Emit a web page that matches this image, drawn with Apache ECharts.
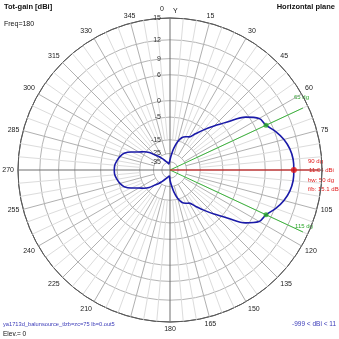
<!DOCTYPE html>
<html>
<head>
<meta charset="utf-8">
<script src="https://cdn.jsdelivr.net/npm/echarts@6/dist/echarts.min.js"></script>
<style>
  html, body { margin: 0; padding: 0; background: #ffffff; }
  #chart { width: 339px; height: 339px; }
</style>
</head>
<body>
<div id="chart"></div>
<script>
// Azimuth (degrees, clockwise from Y) and total gain in dBi
const azimuth = [
  0, 5, 10, 15, 20, 25, 30, 35, 40, 45, 50, 55, 60, 65, 70, 75, 80, 85,
  90, 95, 100, 105, 110, 115, 120, 125, 130, 135, 140, 145, 150, 155, 160, 165,
  170, 175, 180, 185, 190, 195, 200, 205, 210, 215, 220, 225, 230, 235, 240, 245,
  250, 255, 260, 265, 270, 275, 280, 285, 290, 295, 300, 305, 310, 315, 320, 325,
  330, 335, 340, 345, 350, 355
];
const gainDbi = [
  -32, -26.4, -20.3, -15.6, -12.8, -11.6, -10.9, -8.3, -5.2, -2.0, 1.4, 5.4, 7.5, 8.04, 9.2, 10.1, 10.7, 11.0,
  11.04, 11.0, 10.7, 10.1, 9.2, 8.04, 7.5, 5.4, 1.4, -2.0, -5.2, -8.3, -10.9, -11.6, -12.8, -15.6,
  -20.3, -26.4, -32, -38.5, -38.5, -36.8, -35.2, -33, -30.3, -27.4, -24, -21, -16.9, -14.2, -11.9, -8.9,
  -6.5, -5.4, -4.7, -4.15, -4.06, -4.15, -4.7, -5.4, -6.5, -8.9, -11.9, -14.2, -16.9, -21, -24, -27.4,
  -30.3, -33, -35.2, -36.8, -38.5, -38.5
];

// Gain rings (dBi) and their labels
const ringDbi = [15, 12, 9, 6, 0, -5, -15, -25, -35];
const ringLabels = ['15', '12', '9', '6', '0', '-5', '-15', '-25', '-35'];

// Azimuth labels every 15 degrees; some are covered by annotations
const hiddenAngleLabels = [0, 90, 195];

// Main lobe summary
const peakAngle = 90;
const peakDbi = 11.04;
const halfPowerAngles = [65, 115];
const halfPowerDbi = 8.04;
const beamwidth = 50;
const frontToBack = 15.1;

// Log-type radial scale: outer ring = 15 dBi
const outerDbi = 15;
function toRadius(db) {
  const k = 0.05, c = 0.03;
  return Math.max(0, (Math.exp(k * (db - outerDbi)) - c) / (1 - c));
}

// Spokes: 5 deg minor, 15 deg major, 0/90/180/270 axes
const spokes = [];
for (let a = 0; a < 360; a += 5) {
  let kind = 0, from = toRadius(-15);
  if (a % 90 === 0) { kind = 2; from = 0; }
  else if (a % 15 === 0) { kind = 1; from = toRadius(-25); }
  spokes.push([from, a, kind]);
}
const spokeColors = ['#dcdcdc', '#b0b0b0', '#6e6e6e'];

const patternData = azimuth.map((a, i) => [toRadius(gainDbi[i]), a]);
patternData.push([toRadius(gainDbi[0]), 360]);

const chart = echarts.init(document.getElementById('chart'), null, { renderer: 'canvas' });
const font = 'Liberation Sans, Arial, sans-serif';

chart.setOption({
  animation: false,
  backgroundColor: '#ffffff',
  polar: { center: [170, 170], radius: 152 },
  angleAxis: {
    type: 'value', min: 0, max: 360, interval: 15, startAngle: 90, clockwise: true,
    axisLine: { lineStyle: { color: '#5a5a5a', width: 1 } },
    axisTick: { show: false },
    splitLine: { show: false },
    axisLabel: {
      margin: 4, fontSize: 7, color: '#222', fontFamily: font,
      formatter: v => (hiddenAngleLabels.includes(v) || v >= 360) ? '' : String(v)
    }
  },
  radiusAxis: { type: 'value', min: 0, max: 1, show: false },
  series: [
    {
      // gain rings with their labels on the vertical axis
      type: 'custom', coordinateSystem: 'polar', silent: true, z: 1,
      data: ringDbi.map((d, i) => [toRadius(d), 0, i]),
      renderItem(params, api) {
        const c = api.coord([0, 0]);
        const p = api.coord([api.value(0), 0]);
        const r = Math.hypot(p[0] - c[0], p[1] - c[1]);
        const idx = api.value(2);
        return {
          type: 'group',
          children: [
            { type: 'circle', shape: { cx: c[0], cy: c[1], r: r },
              style: { fill: 'none', stroke: idx === 0 ? '#5a5a5a' : '#b4b4b4', lineWidth: 1 } },
            { type: 'text', x: c[0] - 9, y: p[1],
              style: { text: ringLabels[idx], fill: '#333', font: '7px ' + font,
                       align: 'right', verticalAlign: 'middle',
                       textAlign: 'right', textVerticalAlign: 'middle' }, z2: 5 }
          ]
        };
      }
    },
    {
      // azimuth spokes
      type: 'custom', coordinateSystem: 'polar', silent: true, z: 1,
      data: spokes,
      renderItem(params, api) {
        const a = api.value(1);
        const p0 = api.coord([api.value(0), a]);
        const p1 = api.coord([1, a]);
        return { type: 'line', shape: { x1: p0[0], y1: p0[1], x2: p1[0], y2: p1[1] },
                 style: { stroke: spokeColors[api.value(2)], lineWidth: 1 } };
      }
    },
    {
      // -3 dB direction lines
      type: 'line', coordinateSystem: 'polar', symbol: 'none', silent: true, z: 3,
      lineStyle: { color: '#3cb43c', width: 1 },
      data: [[0, halfPowerAngles[0]], [0.965, halfPowerAngles[0]], ['-', '-'],
             [0, halfPowerAngles[1]], [0.965, halfPowerAngles[1]]],
      connectNulls: false
    },
    {
      // peak direction line
      type: 'line', coordinateSystem: 'polar', symbol: 'none', silent: true, z: 3,
      lineStyle: { color: '#e01818', width: 1 },
      data: [[0, peakAngle], [0.98, peakAngle]]
    },
    {
      // radiation pattern
      type: 'line', coordinateSystem: 'polar', symbol: 'none', silent: true, z: 4,
      smooth: 0.35,
      lineStyle: { color: '#1a1aa8', width: 1.6 },
      data: patternData
    },
    {
      type: 'scatter', coordinateSystem: 'polar', silent: true, z: 5,
      symbolSize: 5, itemStyle: { color: '#2aa62a' },
      data: halfPowerAngles.map(a => [toRadius(halfPowerDbi), a])
    },
    {
      type: 'scatter', coordinateSystem: 'polar', silent: true, z: 5,
      symbolSize: 6, itemStyle: { color: '#e01818' },
      data: [[toRadius(peakDbi), peakAngle]]
    }
  ],
  graphic: [
    { type: 'text', left: 4, top: 3, style: { text: 'Tot-gain [dBi]', font: 'bold 7.5px ' + font, fill: '#111' } },
    { type: 'text', left: 4, top: 21, style: { text: 'Freq=180', font: '7px ' + font, fill: '#111' } },
    { type: 'text', right: 4, top: 3, style: { text: 'Horizontal plane', font: 'bold 7.5px ' + font, fill: '#111' } },
    { type: 'text', left: 160, top: 6, style: { text: '0', font: '7px ' + font, fill: '#222' } },
    { type: 'text', left: 173, top: 8, style: { text: 'Y', font: '7px ' + font, fill: '#111' } },
    { type: 'text', left: 294, top: 94, style: { text: halfPowerAngles[0] + ' dg', font: '6px ' + font, fill: '#2aa62a' } },
    { type: 'text', left: 295, top: 223, style: { text: halfPowerAngles[1] + ' dg', font: '6px ' + font, fill: '#2aa62a' } },
    { type: 'text', left: 308, top: 158, style: { text: peakAngle + ' dg', font: '6px ' + font, fill: '#e01818' } },
    { type: 'text', left: 309, top: 167, style: { text: peakDbi.toFixed(2) + ' dBi', font: '6px ' + font, fill: '#e01818' } },
    { type: 'text', left: 308, top: 177, style: { text: 'bw: ' + beamwidth + ' dg', font: '6px ' + font, fill: '#e01818' } },
    { type: 'text', left: 308, top: 186, style: { text: 'f/b: ' + frontToBack + ' dB', font: '6px ' + font, fill: '#e01818' } },
    { type: 'text', left: 3, top: 321, style: { text: 'ya1713d_balunsource_tlzb=zc=75 lb=0.out5', font: '5.7px ' + font, fill: '#3a3ab8' } },
    { type: 'text', left: 3, top: 331, style: { text: 'Elev.= 0', font: '6.5px ' + font, fill: '#111' } },
    { type: 'text', right: 3, top: 321, style: { text: '-999 < dBi < 11', font: '6.5px ' + font, fill: '#3a3ab8' } }
  ]
});
</script>
</body>
</html>
